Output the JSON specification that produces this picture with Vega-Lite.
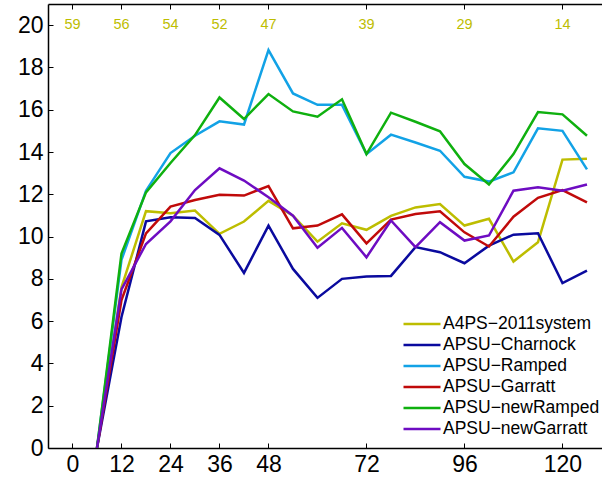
{
  "$schema": "https://vega.github.io/schema/vega-lite/v6.json",
  "autosize": {"type": "none"},
  "padding": {"left": 48, "top": 4, "right": 0, "bottom": 31},
  "width": 554,
  "height": 444,
  "background": "white",
  "config": {
    "view": {"stroke": null},
    "font": "Liberation Sans",
    "axis": {
      "grid": false,
      "domainColor": "black",
      "domainWidth": 1.5,
      "tickColor": "black",
      "tickWidth": 1,
      "tickSize": -5,
      "labelColor": "black",
      "labelFont": "Liberation Sans",
      "labelFontSize": 23,
      "title": null
    }
  },
  "datasets": {
    "series": [
      {"h": 6, "s": "A4PS-2011system", "v": 0}, {"h": 12, "s": "A4PS-2011system", "v": 7.6}, {"h": 18, "s": "A4PS-2011system", "v": 11.2}, {"h": 24, "s": "A4PS-2011system", "v": 11.1}, {"h": 30, "s": "A4PS-2011system", "v": 11.23}, {"h": 36, "s": "A4PS-2011system", "v": 10.13}, {"h": 42, "s": "A4PS-2011system", "v": 10.71}, {"h": 48, "s": "A4PS-2011system", "v": 11.69}, {"h": 54, "s": "A4PS-2011system", "v": 10.99}, {"h": 60, "s": "A4PS-2011system", "v": 9.76}, {"h": 66, "s": "A4PS-2011system", "v": 10.63}, {"h": 72, "s": "A4PS-2011system", "v": 10.32}, {"h": 78, "s": "A4PS-2011system", "v": 10.98}, {"h": 84, "s": "A4PS-2011system", "v": 11.38}, {"h": 90, "s": "A4PS-2011system", "v": 11.54}, {"h": 96, "s": "A4PS-2011system", "v": 10.52}, {"h": 102, "s": "A4PS-2011system", "v": 10.84}, {"h": 108, "s": "A4PS-2011system", "v": 8.82}, {"h": 114, "s": "A4PS-2011system", "v": 9.73}, {"h": 120, "s": "A4PS-2011system", "v": 13.64}, {"h": 126, "s": "A4PS-2011system", "v": 13.68},
      {"h": 6, "s": "APSU-Charnock", "v": 0}, {"h": 12, "s": "APSU-Charnock", "v": 6.2}, {"h": 18, "s": "APSU-Charnock", "v": 10.72}, {"h": 24, "s": "APSU-Charnock", "v": 10.91}, {"h": 30, "s": "APSU-Charnock", "v": 10.88}, {"h": 36, "s": "APSU-Charnock", "v": 10.08}, {"h": 42, "s": "APSU-Charnock", "v": 8.28}, {"h": 48, "s": "APSU-Charnock", "v": 10.52}, {"h": 54, "s": "APSU-Charnock", "v": 8.47}, {"h": 60, "s": "APSU-Charnock", "v": 7.1}, {"h": 66, "s": "APSU-Charnock", "v": 8.0}, {"h": 72, "s": "APSU-Charnock", "v": 8.11}, {"h": 78, "s": "APSU-Charnock", "v": 8.14}, {"h": 84, "s": "APSU-Charnock", "v": 9.5}, {"h": 90, "s": "APSU-Charnock", "v": 9.26}, {"h": 96, "s": "APSU-Charnock", "v": 8.74}, {"h": 102, "s": "APSU-Charnock", "v": 9.57}, {"h": 108, "s": "APSU-Charnock", "v": 10.09}, {"h": 114, "s": "APSU-Charnock", "v": 10.16}, {"h": 120, "s": "APSU-Charnock", "v": 7.8}, {"h": 126, "s": "APSU-Charnock", "v": 8.39},
      {"h": 6, "s": "APSU-Ramped", "v": 0}, {"h": 12, "s": "APSU-Ramped", "v": 8.9}, {"h": 18, "s": "APSU-Ramped", "v": 12.17}, {"h": 24, "s": "APSU-Ramped", "v": 13.95}, {"h": 30, "s": "APSU-Ramped", "v": 14.77}, {"h": 36, "s": "APSU-Ramped", "v": 15.45}, {"h": 42, "s": "APSU-Ramped", "v": 15.3}, {"h": 48, "s": "APSU-Ramped", "v": 18.82}, {"h": 54, "s": "APSU-Ramped", "v": 16.77}, {"h": 60, "s": "APSU-Ramped", "v": 16.23}, {"h": 66, "s": "APSU-Ramped", "v": 16.23}, {"h": 72, "s": "APSU-Ramped", "v": 13.9}, {"h": 78, "s": "APSU-Ramped", "v": 14.82}, {"h": 84, "s": "APSU-Ramped", "v": 14.45}, {"h": 90, "s": "APSU-Ramped", "v": 14.06}, {"h": 96, "s": "APSU-Ramped", "v": 12.83}, {"h": 102, "s": "APSU-Ramped", "v": 12.6}, {"h": 108, "s": "APSU-Ramped", "v": 13.04}, {"h": 114, "s": "APSU-Ramped", "v": 15.12}, {"h": 120, "s": "APSU-Ramped", "v": 15.0}, {"h": 126, "s": "APSU-Ramped", "v": 13.18},
      {"h": 6, "s": "APSU-Garratt", "v": 0}, {"h": 12, "s": "APSU-Garratt", "v": 7.0}, {"h": 18, "s": "APSU-Garratt", "v": 10.15}, {"h": 24, "s": "APSU-Garratt", "v": 11.42}, {"h": 30, "s": "APSU-Garratt", "v": 11.73}, {"h": 36, "s": "APSU-Garratt", "v": 11.98}, {"h": 42, "s": "APSU-Garratt", "v": 11.94}, {"h": 48, "s": "APSU-Garratt", "v": 12.39}, {"h": 54, "s": "APSU-Garratt", "v": 10.39}, {"h": 60, "s": "APSU-Garratt", "v": 10.52}, {"h": 66, "s": "APSU-Garratt", "v": 11.05}, {"h": 72, "s": "APSU-Garratt", "v": 9.68}, {"h": 78, "s": "APSU-Garratt", "v": 10.8}, {"h": 84, "s": "APSU-Garratt", "v": 11.07}, {"h": 90, "s": "APSU-Garratt", "v": 11.2}, {"h": 96, "s": "APSU-Garratt", "v": 10.2}, {"h": 102, "s": "APSU-Garratt", "v": 9.53}, {"h": 108, "s": "APSU-Garratt", "v": 10.94}, {"h": 114, "s": "APSU-Garratt", "v": 11.83}, {"h": 120, "s": "APSU-Garratt", "v": 12.2}, {"h": 126, "s": "APSU-Garratt", "v": 11.62},
      {"h": 6, "s": "APSU-newRamped", "v": 0}, {"h": 12, "s": "APSU-newRamped", "v": 9.2}, {"h": 18, "s": "APSU-newRamped", "v": 12.09}, {"h": 24, "s": "APSU-newRamped", "v": 13.48}, {"h": 30, "s": "APSU-newRamped", "v": 14.8}, {"h": 36, "s": "APSU-newRamped", "v": 16.58}, {"h": 42, "s": "APSU-newRamped", "v": 15.56}, {"h": 48, "s": "APSU-newRamped", "v": 16.74}, {"h": 54, "s": "APSU-newRamped", "v": 15.92}, {"h": 60, "s": "APSU-newRamped", "v": 15.67}, {"h": 66, "s": "APSU-newRamped", "v": 16.49}, {"h": 72, "s": "APSU-newRamped", "v": 13.9}, {"h": 78, "s": "APSU-newRamped", "v": 15.86}, {"h": 84, "s": "APSU-newRamped", "v": 15.43}, {"h": 90, "s": "APSU-newRamped", "v": 14.98}, {"h": 96, "s": "APSU-newRamped", "v": 13.43}, {"h": 102, "s": "APSU-newRamped", "v": 12.46}, {"h": 108, "s": "APSU-newRamped", "v": 13.9}, {"h": 114, "s": "APSU-newRamped", "v": 15.89}, {"h": 120, "s": "APSU-newRamped", "v": 15.78}, {"h": 126, "s": "APSU-newRamped", "v": 14.77},
      {"h": 6, "s": "APSU-newGarratt", "v": 0}, {"h": 12, "s": "APSU-newGarratt", "v": 7.5}, {"h": 18, "s": "APSU-newGarratt", "v": 9.65}, {"h": 24, "s": "APSU-newGarratt", "v": 10.72}, {"h": 30, "s": "APSU-newGarratt", "v": 12.2}, {"h": 36, "s": "APSU-newGarratt", "v": 13.23}, {"h": 42, "s": "APSU-newGarratt", "v": 12.65}, {"h": 48, "s": "APSU-newGarratt", "v": 11.86}, {"h": 54, "s": "APSU-newGarratt", "v": 10.99}, {"h": 60, "s": "APSU-newGarratt", "v": 9.47}, {"h": 66, "s": "APSU-newGarratt", "v": 10.41}, {"h": 72, "s": "APSU-newGarratt", "v": 9.02}, {"h": 78, "s": "APSU-newGarratt", "v": 10.76}, {"h": 84, "s": "APSU-newGarratt", "v": 9.5}, {"h": 90, "s": "APSU-newGarratt", "v": 10.68}, {"h": 96, "s": "APSU-newGarratt", "v": 9.81}, {"h": 102, "s": "APSU-newGarratt", "v": 10.05}, {"h": 108, "s": "APSU-newGarratt", "v": 12.17}, {"h": 114, "s": "APSU-newGarratt", "v": 12.33}, {"h": 120, "s": "APSU-newGarratt", "v": 12.17}, {"h": 126, "s": "APSU-newGarratt", "v": 12.46}
    ],
    "counts": [
      {"h": 0, "n": 59}, {"h": 12, "n": 56}, {"h": 24, "n": 54}, {"h": 36, "n": 52},
      {"h": 48, "n": 47}, {"h": 72, "n": 39}, {"h": 96, "n": 29}, {"h": 120, "n": 14}
    ]
  },
  "resolve": {"axis": {"x": "independent"}},
  "layer": [
    {
      "data": {"name": "series"},
      "mark": {"type": "line", "strokeWidth": 2.5, "strokeJoin": "miter", "clip": true},
      "encoding": {
        "x": {
          "field": "h", "type": "quantitative",
          "scale": {"domain": [-6, 129.68], "nice": false, "zero": false},
          "axis": {"orient": "bottom", "values": [0, 12, 24, 36, 48, 72, 96, 120], "labelPadding": 10, "labelFlush": false}
        },
        "y": {
          "field": "v", "type": "quantitative",
          "scale": {"domain": [0, 21], "nice": false},
          "axis": {"values": [0, 2, 4, 6, 8, 10, 12, 14, 16, 18, 20], "labelPadding": 10}
        },
        "color": {
          "field": "s", "type": "nominal",
          "scale": {
            "domain": ["A4PS-2011system", "APSU-Charnock", "APSU-Ramped", "APSU-Garratt", "APSU-newRamped", "APSU-newGarratt"],
            "range": ["#BDBD00", "#0A0A9E", "#12A2E6", "#C00A0A", "#0FB00F", "#6E0CC2"]
          },
          "legend": {
            "title": null,
            "orient": "none",
            "legendX": 354,
            "legendY": 309.5,
            "symbolType": "stroke",
            "symbolSize": 1369,
            "symbolStrokeWidth": 2.5,
            "labelFont": "Liberation Sans",
            "labelFontSize": 17.5,
            "labelColor": "black",
            "labelOffset": 1,
            "labelLimit": 240,
            "labelExpr": "replace(datum.label, '-', '\u2212')",
            "clipHeight": 21,
            "rowPadding": 0
          }
        }
      }
    },
    {
      "data": {"name": "counts"},
      "mark": {"type": "text", "fontSize": 14.5, "color": "#BDBD00", "baseline": "middle", "align": "center", "font": "Liberation Sans"},
      "encoding": {
        "x": {
          "field": "h", "type": "quantitative",
          "axis": {"orient": "top", "values": [0, 12, 24, 36, 48, 72, 96, 120], "labels": false}
        },
        "y": {"datum": 20, "type": "quantitative"},
        "text": {"field": "n", "type": "quantitative"}
      }
    }
  ]
}
